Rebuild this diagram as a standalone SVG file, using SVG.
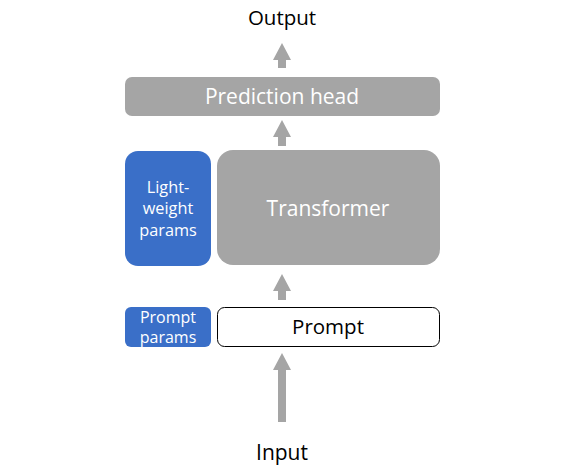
<svg xmlns="http://www.w3.org/2000/svg" width="574" height="476" viewBox="0 0 574 476">
<style>
.t{font-family:"Open Sans","Noto Sans","Liberation Sans",sans-serif;text-anchor:middle}
.gray{fill:#A5A5A5}
.blue{fill:#3A6FC8}
.w{fill:#FFFFFF}
.k{fill:#000000}
.arr{fill:#A5A5A5}
</style>
<rect width="574" height="476" fill="#FFFFFF"/>
<g id="output"><text class="t k" x="282" y="25" font-size="20.5">Output</text></g>
<g id="prediction-head">
<rect class="gray" x="125" y="77" width="315" height="39" rx="7"/>
<text class="t w" x="282" y="104" font-size="21">Prediction head</text>
</g>
<g id="lightweight-params">
<rect class="blue" x="125" y="151" width="86" height="115" rx="13"/>
<text class="t w" font-size="16.3"><tspan x="168" y="193">Light-</tspan><tspan x="168" y="214">weight</tspan><tspan x="168" y="236">params</tspan></text>
</g>
<g id="transformer">
<rect class="gray" x="217" y="150" width="223" height="115" rx="16"/>
<text class="t w" x="328" y="216" font-size="21">Transformer</text>
</g>
<g id="prompt-params">
<rect class="blue" x="125" y="307" width="86" height="40" rx="6"/>
<text class="t w" font-size="16"><tspan x="168" y="323">Prompt</tspan><tspan x="168" y="343">params</tspan></text>
</g>
<g id="prompt">
<rect x="217.5" y="307.5" width="222" height="39" rx="7" fill="#FFFFFF" stroke="#000000" stroke-width="1"/>
<text class="t k" x="328" y="334" font-size="20.5">Prompt</text>
</g>
<g id="input"><text class="t k" x="282" y="460" font-size="21">Input</text></g>
<g id="connectors">
<polygon class="arr" points="282,43 291,60 286,60 286,68 278,68 278,60 273,60"/>
<polygon class="arr" points="282,120 291,137 286,137 286,146 278,146 278,137 273,137"/>
<polygon class="arr" points="282,274 291,291 286,291 286,300 278,300 278,291 273,291"/>
<polygon class="arr" points="282,353 291,370 286,370 286,422 278,422 278,370 273,370"/>
</g>
</svg>
